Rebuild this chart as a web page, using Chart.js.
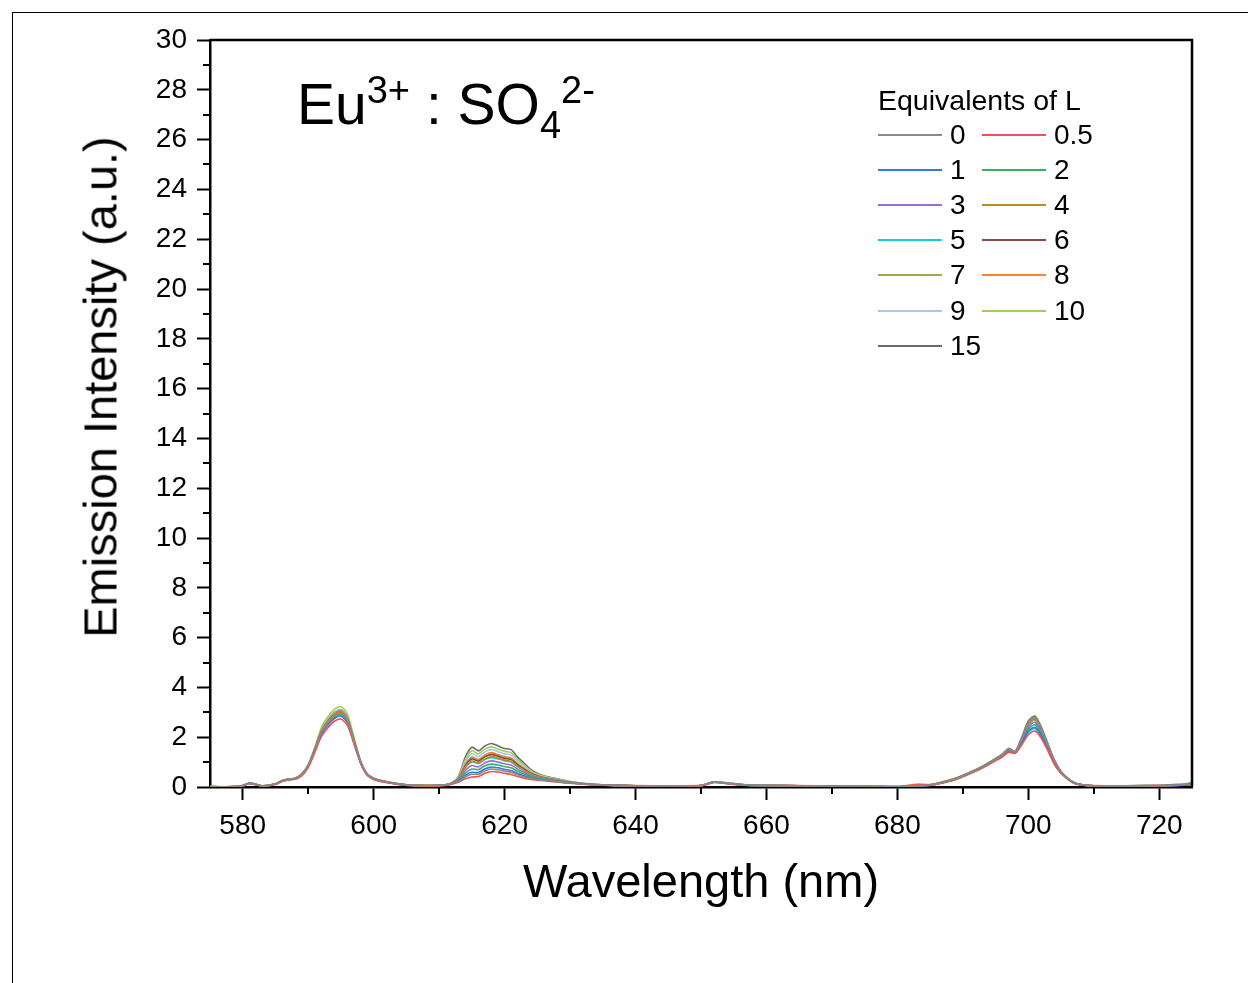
<!DOCTYPE html>
<html>
<head>
<meta charset="utf-8">
<script src="https://cdn.jsdelivr.net/npm/chart.js@4.4.0/dist/chart.umd.min.js"></script>
<style>
body{margin:0;background:#fff;}
#wrap{position:relative;width:1248px;height:983px;overflow:hidden;font-family:"Liberation Sans",Arial,sans-serif;color:#000;}
#frame{position:absolute;left:12px;top:12px;width:1250px;height:990px;border-left:1px solid #000;border-top:1px solid #000;}
canvas{position:absolute;left:0;top:0;}
#label{position:absolute;left:297px;top:76px;font-size:57px;line-height:57px;white-space:nowrap;}
#label sup{font-size:38px;line-height:0;vertical-align:21px;}
#label sub{font-size:38px;line-height:0;vertical-align:-14px;}
#ytitle{position:absolute;left:100px;top:387px;font-size:47px;line-height:47px;white-space:nowrap;transform:translate(-50%,-50%) rotate(-90deg);}
#legend{position:absolute;left:0;top:0;}
#legend .t{position:absolute;left:878px;top:86px;font-size:28.5px;line-height:28px;white-space:nowrap;}
#legend .s{position:absolute;width:64px;height:2px;}
#legend .l{position:absolute;font-size:28px;line-height:28px;white-space:nowrap;}
</style>
</head>
<body>
<div id="wrap">
  <div id="frame"></div>
  <canvas id="chart" width="1248" height="983"></canvas>
  <div id="label">Eu<sup>3+</sup> : SO<sub>4</sub><sup>2-</sup></div>
  <div id="ytitle">Emission Intensity (a.u.)</div>
  <div id="legend"><div class="t">Equivalents of L</div></div>
</div>
<script>
// wavelength grid (nm)
var wavelength = [575,577,579,580,581,582,583,585,586,587,588,589,590,591,592,593,594,
  595,596,597,598,599,600,601,603,605,608,611,612,
  613,614,615,616,617,618,619,620,621,622,623,624,625,626,628,630,
  633,636,640,645,650,652,654,657,660,665,670,675,680,683,685,687,689,691,693,695,
  696,697,698,699,700,701,702,703,704,705,706,707,708,
  710,713,716,720,722,724,725];

// tick positions (major ones get labels)
var xTicks = [580,590,600,610,620,630,640,650,660,670,680,690,700,710,720];
var yTicks = [0,1,2,3,4,5,6,7,8,9,10,11,12,13,14,15,16,17,18,19,20,21,22,23,24,25,26,27,28,29,30];

var equivalents = ['0','0.5','1','2','3','4','5','6','7','8','9','10','15'];
var lineColors = ['#8a8a8a','#f05050','#2f7de1','#35b060','#9a6cd4','#c08a1e','#12cfd6',
  '#8b4a4a','#a3a35a','#f5843f','#a6c8ea','#9fd055','#6a6a6a'];

var eq0 = [0.01,0.0,0.02,0.05,0.14,0.1,0.04,0.12,0.24,0.3,0.33,0.5,0.85,1.5,
  2.18,2.57,2.85,2.95,2.67,1.83,
  1.0,0.5,0.33,0.25,0.15,0.08,0.05,0.08,0.15,
  0.22,0.41,0.51,0.51,0.65,0.72,0.69,0.64,0.59,0.49,0.40,0.34,0.30,0.27,0.21,0.16,
  0.1,0.07,0.04,0.04,0.06,0.2,0.15,0.08,0.06,0.04,0.03,0.02,0.01,0.04,0.08,0.18,0.33,0.55,0.8,1.1,
  1.29,1.51,1.41,1.93,2.55,2.75,2.31,1.68,1.04,0.6,0.35,0.17,0.1,
  0.04,0.03,0.04,0.05,0.06,0.1,0.12];
var eq05 = [0.0,0.01,0.02,0.04,0.13,0.09,0.03,0.1,0.22,0.28,0.31,0.45,0.78,1.38,
  2.02,2.38,2.64,2.73,2.47,1.72,
  0.95,0.47,0.3,0.22,0.13,0.06,0.03,0.06,0.12,
  0.2,0.33,0.4,0.42,0.55,0.62,0.6,0.55,0.5,0.42,0.35,0.3,0.27,0.25,0.2,0.15,
  0.09,0.06,0.05,0.03,0.05,0.18,0.13,0.07,0.05,0.05,0.02,0.03,0.0,0.09,0.06,0.17,0.3,0.52,0.76,1.05,
  1.2,1.4,1.35,1.7,2.1,2.25,1.95,1.45,0.9,0.55,0.32,0.15,0.08,
  0.05,0.02,0.05,0.04,0.07,0.09,0.1];
var eq1 = [0.01,0.0,0.01,0.05,0.14,0.1,0.03,0.11,0.23,0.29,0.32,0.48,0.82,1.46,
  2.10,2.49,2.75,2.85,2.58,1.77,
  0.98,0.49,0.32,0.24,0.14,0.07,0.04,0.07,0.14,
  0.24,0.47,0.59,0.58,0.73,0.80,0.77,0.71,0.66,0.54,0.45,0.36,0.31,0.28,0.22,0.16,
  0.1,0.06,0.04,0.03,0.05,0.19,0.14,0.06,0.05,0.04,0.02,0.01,0.0,0.03,0.07,0.17,0.32,0.54,0.79,1.08,
  1.23,1.43,1.37,1.77,2.24,2.4,2.06,1.52,0.94,0.56,0.33,0.16,0.09,
  0.03,0.02,0.03,0.05,0.05,0.08,0.1];
var eq2 = [0.02,0.01,0.02,0.05,0.15,0.1,0.04,0.12,0.24,0.3,0.33,0.49,0.84,1.48,
  2.14,2.53,2.80,2.90,2.63,1.80,
  0.99,0.5,0.33,0.25,0.15,0.08,0.05,0.08,0.15,
  0.27,0.56,0.72,0.70,0.85,0.92,0.88,0.82,0.77,0.63,0.51,0.41,0.35,0.30,0.24,0.17,
  0.11,0.07,0.05,0.04,0.06,0.2,0.14,0.08,0.06,0.04,0.03,0.02,0.01,0.04,0.08,0.19,0.34,0.55,0.81,1.1,
  1.25,1.45,1.38,1.81,2.33,2.5,2.13,1.56,0.97,0.57,0.33,0.16,0.09,
  0.05,0.04,0.06,0.05,0.1,0.12,0.2];
var eq3 = [0.01,0.0,0.02,0.05,0.15,0.1,0.04,0.12,0.24,0.3,0.33,0.5,0.85,1.5,
  2.16,2.55,2.82,2.92,2.65,1.81,
  1.0,0.5,0.33,0.25,0.15,0.08,0.05,0.08,0.15,
  0.30,0.66,0.86,0.81,0.97,1.05,1.0,0.93,0.88,0.72,0.58,0.45,0.38,0.33,0.25,0.18,
  0.1,0.07,0.04,0.04,0.05,0.2,0.15,0.07,0.06,0.05,0.03,0.02,0.01,0.04,0.08,0.18,0.33,0.56,0.8,1.11,
  1.26,1.48,1.40,1.86,2.42,2.6,2.21,1.61,1.0,0.58,0.34,0.16,0.09,
  0.04,0.03,0.04,0.06,0.06,0.09,0.11];
var eq4 = [0.01,0.01,0.02,0.06,0.15,0.11,0.04,0.13,0.25,0.31,0.34,0.51,0.86,1.52,
  2.22,2.62,2.90,3.0,2.72,1.86,
  1.01,0.51,0.34,0.26,0.16,0.09,0.06,0.09,0.16,
  0.33,0.79,1.04,0.97,1.13,1.22,1.16,1.08,1.03,0.83,0.67,0.51,0.42,0.36,0.27,0.19,
  0.11,0.08,0.05,0.05,0.06,0.2,0.15,0.08,0.07,0.05,0.03,0.02,0.02,0.05,0.09,0.19,0.35,0.56,0.82,1.12,
  1.28,1.50,1.41,1.90,2.51,2.7,2.28,1.66,1.02,0.59,0.35,0.17,0.1,
  0.05,0.03,0.04,0.05,0.07,0.1,0.12];
var eq5 = [0.01,0.0,0.02,0.05,0.14,0.1,0.04,0.12,0.24,0.3,0.33,0.5,0.85,1.49,
  2.18,2.57,2.85,2.95,2.67,1.83,
  1.0,0.5,0.33,0.25,0.15,0.08,0.05,0.08,0.15,
  0.33,0.77,1.0,0.94,1.10,1.18,1.13,1.05,1.0,0.81,0.65,0.5,0.41,0.35,0.27,0.19,
  0.1,0.07,0.05,0.04,0.05,0.19,0.14,0.07,0.06,0.04,0.03,0.02,0.01,0.04,0.08,0.18,0.33,0.54,0.79,1.09,
  1.22,1.42,1.36,1.75,2.19,2.35,2.02,1.49,0.93,0.56,0.33,0.15,0.08,
  0.04,0.03,0.05,0.05,0.08,0.1,0.14];
var eq6 = [0.01,0.0,0.02,0.05,0.15,0.1,0.04,0.12,0.25,0.31,0.34,0.51,0.86,1.51,
  2.22,2.62,2.90,3.0,2.72,1.86,
  1.01,0.51,0.34,0.26,0.16,0.09,0.06,0.09,0.16,
  0.35,0.85,1.12,1.04,1.21,1.30,1.23,1.15,1.1,0.89,0.71,0.54,0.44,0.37,0.28,0.19,
  0.11,0.08,0.05,0.04,0.06,0.21,0.15,0.08,0.06,0.05,0.03,0.02,0.01,0.05,0.08,0.19,0.34,0.56,0.81,1.12,
  1.29,1.51,1.41,1.93,2.55,2.75,2.31,1.68,1.04,0.6,0.35,0.17,0.1,
  0.04,0.03,0.04,0.05,0.07,0.09,0.11];
var eq7 = [0.02,0.01,0.02,0.06,0.16,0.11,0.05,0.13,0.25,0.31,0.34,0.52,0.87,1.52,
  2.25,2.66,2.95,3.05,2.76,1.89,
  1.02,0.52,0.34,0.26,0.16,0.09,0.06,0.09,0.16,
  0.36,0.88,1.16,1.07,1.24,1.33,1.26,1.18,1.13,0.91,0.73,0.55,0.45,0.38,0.28,0.19,
  0.11,0.08,0.05,0.05,0.06,0.21,0.16,0.08,0.07,0.05,0.04,0.03,0.02,0.05,0.09,0.2,0.35,0.57,0.82,1.13,
  1.3,1.52,1.42,1.95,2.6,2.8,2.35,1.7,1.05,0.6,0.35,0.17,0.1,
  0.05,0.04,0.05,0.06,0.07,0.1,0.12];
var eq8 = [0.01,0.01,0.03,0.05,0.15,0.1,0.04,0.12,0.25,0.31,0.34,0.51,0.86,1.51,
  2.25,2.66,2.95,3.05,2.76,1.89,
  1.02,0.52,0.34,0.26,0.15,0.08,0.06,0.09,0.16,
  0.37,0.91,1.20,1.11,1.29,1.38,1.30,1.22,1.17,0.94,0.75,0.57,0.46,0.38,0.29,0.2,
  0.11,0.08,0.06,0.05,0.07,0.2,0.15,0.09,0.07,0.06,0.04,0.05,0.02,0.12,0.1,0.22,0.36,0.57,0.82,1.12,
  1.28,1.50,1.41,1.91,2.53,2.72,2.29,1.66,1.03,0.59,0.35,0.17,0.1,
  0.06,0.04,0.05,0.07,0.08,0.1,0.12];
var eq9 = [0.01,0.0,0.02,0.05,0.15,0.1,0.04,0.12,0.25,0.31,0.34,0.51,0.87,1.52,
  2.27,2.69,2.98,3.08,2.79,1.91,
  1.02,0.52,0.34,0.26,0.16,0.09,0.06,0.09,0.16,
  0.40,1.01,1.34,1.22,1.41,1.50,1.42,1.33,1.28,1.03,0.82,0.61,0.49,0.41,0.30,0.2,
  0.11,0.08,0.05,0.04,0.06,0.2,0.15,0.08,0.06,0.05,0.03,0.02,0.01,0.04,0.08,0.19,0.34,0.56,0.81,1.11,
  1.26,1.48,1.40,1.86,2.42,2.6,2.21,1.61,1.0,0.58,0.34,0.16,0.09,
  0.04,0.03,0.04,0.05,0.06,0.09,0.1];
var eq10 = [0.02,0.01,0.03,0.06,0.16,0.11,0.05,0.13,0.26,0.32,0.35,0.53,0.9,1.58,
  2.38,2.82,3.12,3.23,2.93,2.0,
  1.05,0.53,0.35,0.27,0.16,0.09,0.06,0.09,0.17,
  0.42,1.1,1.46,1.33,1.52,1.61,1.52,1.43,1.38,1.11,0.88,0.65,0.52,0.43,0.32,0.21,
  0.12,0.08,0.05,0.05,0.06,0.21,0.16,0.08,0.07,0.05,0.03,0.02,0.02,0.05,0.09,0.2,0.35,0.57,0.83,1.13,
  1.28,1.50,1.41,1.90,2.51,2.7,2.28,1.66,1.02,0.59,0.35,0.17,0.1,
  0.05,0.04,0.05,0.06,0.07,0.1,0.12];
var eq15 = [0.02,0.01,0.02,0.06,0.16,0.11,0.05,0.13,0.26,0.32,0.35,0.52,0.88,1.54,
  2.29,2.70,3.0,3.1,2.81,1.92,
  1.03,0.52,0.35,0.27,0.16,0.09,0.06,0.09,0.17,
  0.45,1.2,1.6,1.45,1.65,1.75,1.65,1.55,1.5,1.2,0.95,0.7,0.55,0.45,0.33,0.22,
  0.12,0.08,0.05,0.05,0.06,0.21,0.16,0.08,0.07,0.05,0.03,0.02,0.02,0.05,0.09,0.2,0.36,0.58,0.84,1.15,
  1.32,1.55,1.44,2.0,2.65,2.85,2.4,1.73,1.07,0.62,0.36,0.18,0.1,
  0.05,0.03,0.05,0.06,0.07,0.1,0.12];

var seriesValues = [eq0, eq05, eq1, eq2, eq3, eq4, eq5, eq6, eq7, eq8, eq9, eq10, eq15];

var datasets = seriesValues.map(function(vals, i){
    return {
        label: equivalents[i],
        data: vals.map(function(v, j){ return {x: wavelength[j], y: v}; }),
        borderColor: lineColors[i],
        borderWidth: 1.6,
        pointRadius: 0,
        tension: 0.25,
        fill: false
    };
});

// minor ticks + top/right frame of the plot box
var boxAndMinor = {
    id: 'boxAndMinor',
    afterDraw: function(chart){
        var ctx = chart.ctx, a = chart.chartArea;
        var xs = chart.scales.x, ys = chart.scales.y;
        ctx.save();
        ctx.strokeStyle = '#000';
        ctx.lineWidth = 2.5;
        ctx.beginPath();
        ctx.moveTo(a.left, a.top);
        ctx.lineTo(a.right, a.top);
        ctx.lineTo(a.right, a.bottom);
        ctx.stroke();
        ctx.lineWidth = 2;
        ctx.beginPath();
        xs.ticks.forEach(function(t){
            if (t.value % 20 !== 0) {
                var px = Math.round(xs.getPixelForValue(t.value));
                ctx.moveTo(px, a.bottom);
                ctx.lineTo(px, a.bottom + 7);
            }
        });
        ys.ticks.forEach(function(t){
            if (t.value % 2 !== 0) {
                var py = Math.round(ys.getPixelForValue(t.value));
                ctx.moveTo(a.left - 7, py);
                ctx.lineTo(a.left, py);
            }
        });
        ctx.stroke();
        ctx.restore();
    }
};

var tickFont = {family: '"Liberation Sans", Arial, sans-serif', size: 28};

new Chart(document.getElementById('chart').getContext('2d'), {
    type: 'line',
    data: {datasets: datasets},
    options: {
        responsive: false,
        animation: false,
        events: [],
        layout: {padding: {left: 0, top: 40, right: 56, bottom: 71}},
        plugins: {legend: {display: false}, tooltip: {enabled: false}},
        scales: {
            x: {
                type: 'linear',
                min: 575,
                max: 725,
                afterFit: function(s){ s.height = 125; },
                afterBuildTicks: function(s){ s.ticks = xTicks.map(function(v){ return {value: v}; }); },
                border: {display: true, color: '#000', width: 2.5},
                grid: {
                    drawOnChartArea: false,
                    drawTicks: true,
                    tickLength: 13,
                    tickWidth: 2,
                    tickColor: function(c){ return c.tick && c.tick.value % 20 === 0 ? '#000' : 'rgba(0,0,0,0)'; }
                },
                ticks: {
                    autoSkip: false,
                    maxRotation: 0,
                    padding: 9,
                    color: '#000',
                    font: tickFont,
                    callback: function(v){ return v % 20 === 0 ? String(v) : ''; }
                },
                title: {
                    display: true,
                    text: 'Wavelength (nm)',
                    color: '#000',
                    font: {family: '"Liberation Sans", Arial, sans-serif', size: 47},
                    padding: {top: 0, bottom: 0}
                }
            },
            y: {
                min: 0,
                max: 30,
                afterFit: function(s){ s.width = 210; },
                afterBuildTicks: function(s){ s.ticks = yTicks.map(function(v){ return {value: v}; }); },
                border: {display: true, color: '#000', width: 2.5},
                grid: {
                    drawOnChartArea: false,
                    drawTicks: true,
                    tickLength: 13,
                    tickWidth: 2,
                    tickColor: function(c){ return c.tick && c.tick.value % 2 === 0 ? '#000' : 'rgba(0,0,0,0)'; }
                },
                ticks: {
                    autoSkip: false,
                    padding: 10,
                    color: '#000',
                    font: tickFont,
                    callback: function(v){ return v % 2 === 0 ? String(v) : ''; }
                }
            }
        }
    },
    plugins: [boxAndMinor]
});

// legend in two columns, built from the datasets
var legend = document.getElementById('legend');
var rowY = [135, 170, 205, 240, 275, 311, 346];
equivalents.forEach(function(name, i){
    var row = Math.floor(i / 2), col = i % 2;
    var x0 = col === 0 ? 878 : 982;
    var s = document.createElement('div');
    s.className = 's';
    s.style.left = x0 + 'px';
    s.style.top = (rowY[row] - 1) + 'px';
    s.style.background = lineColors[i];
    legend.appendChild(s);
    var l = document.createElement('div');
    l.className = 'l';
    l.style.left = (x0 + 72) + 'px';
    l.style.top = (rowY[row] - 14) + 'px';
    l.textContent = name;
    legend.appendChild(l);
});
</script>
</body>
</html>
